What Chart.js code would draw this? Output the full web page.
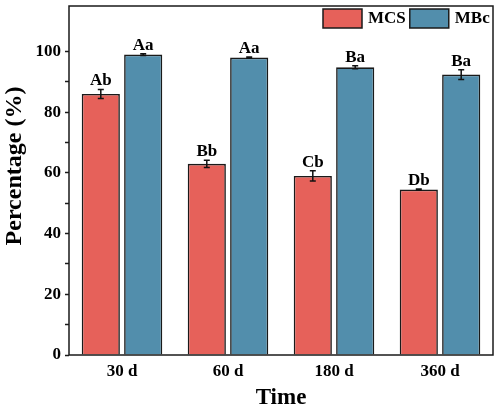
<!DOCTYPE html>
<html>
<head>
<meta charset="utf-8">
<script src="https://cdn.jsdelivr.net/npm/chart.js@4/dist/chart.umd.min.js"></script>
<style>
  body { margin: 0; background: #fff; }
  #chart { display: block; }
</style>
</head>
<body>
<canvas id="chart" width="500" height="412"></canvas>
<script>
// Données
const categories = ['30 d', '60 d', '180 d', '360 d'];
const mcsValues = [86, 63, 59, 54.5];
const mcsErrors = [1.5, 1.2, 1.7, 0.2];
const mcsLetters = ['Ab', 'Bb', 'Cb', 'Db'];
const mbcValues = [99, 98, 94.8, 92.4];
const mbcErrors = [0.3, 0.2, 0.5, 1.6];
const mbcLetters = ['Aa', 'Aa', 'Ba', 'Ba'];

const serif = "'Liberation Serif', 'Times New Roman', serif";
const ink = '#1a1a1a';

// Barres d'erreur, lettres, cadre, titre Y et légende
const decorations = {
    id: 'decorations',
    afterDatasetsDraw(chart) {
        const ctx = chart.ctx;
        const y = chart.scales.y;
        ctx.save();
        chart.data.datasets.forEach((ds, i) => {
            const meta = chart.getDatasetMeta(i);
            meta.data.forEach((bar, j) => {
                const v = ds.data[j];
                const e = ds.errors[j];
                const top = y.getPixelForValue(v + e);
                const bot = y.getPixelForValue(v - e);
                ctx.strokeStyle = '#111';
                ctx.lineWidth = 1.5;
                ctx.beginPath();
                ctx.moveTo(bar.x, top); ctx.lineTo(bar.x, bot);
                ctx.moveTo(bar.x - 3, top); ctx.lineTo(bar.x + 3, top);
                ctx.moveTo(bar.x - 3, bot); ctx.lineTo(bar.x + 3, bot);
                ctx.stroke();
                ctx.fillStyle = '#000';
                ctx.font = 'bold 17px ' + serif;
                ctx.textAlign = 'center';
                ctx.textBaseline = 'alphabetic';
                ctx.fillText(ds.letters[j], bar.x, Math.min(top, bar.y) - 4);
            });
        });
        ctx.restore();
    },
    afterDraw(chart) {
        const ctx = chart.ctx;
        const a = chart.chartArea;
        ctx.save();
        ctx.strokeStyle = ink;
        ctx.lineWidth = 1.5;
        ctx.strokeRect(a.left, a.top, a.right - a.left, a.bottom - a.top);

        // Titre de l'axe Y
        ctx.save();
        ctx.translate(15, 166);
        ctx.rotate(-Math.PI / 2);
        ctx.font = 'bold 24px ' + serif;
        ctx.fillStyle = '#000';
        ctx.textAlign = 'center';
        ctx.textBaseline = 'middle';
        ctx.fillText('Percentage (%)', 0, 0);
        ctx.restore();

        // Légende
        let x = 323;
        ctx.font = 'bold 17px ' + serif;
        ctx.textBaseline = 'middle';
        ctx.textAlign = 'left';
        chart.data.datasets.forEach(ds => {
            ctx.fillStyle = ds.backgroundColor;
            ctx.fillRect(x, 9, 39, 19);
            ctx.lineWidth = 1.5;
            ctx.strokeStyle = ink;
            ctx.strokeRect(x, 9, 39, 19);
            ctx.fillStyle = '#000';
            ctx.fillText(ds.label, x + 45, 19);
            x += 45 + ctx.measureText(ds.label).width + 4;
        });
        ctx.restore();
    }
};

new Chart(document.getElementById('chart'), {
    type: 'bar',
    data: {
        labels: categories,
        datasets: [{
            label: 'MCS',
            data: mcsValues,
            errors: mcsErrors,
            letters: mcsLetters,
            backgroundColor: '#E6615A',
            borderColor: ink,
            borderWidth: 1.6
        }, {
            label: 'MBc',
            data: mbcValues,
            errors: mbcErrors,
            letters: mbcLetters,
            backgroundColor: '#528EAC',
            borderColor: ink,
            borderWidth: 1.6
        }]
    },
    options: {
        responsive: false,
        animation: false,
        categoryPercentage: 0.8,
        barPercentage: 0.9,
        layout: { padding: { top: 6, right: 7, left: 0, bottom: 0 } },
        plugins: {
            legend: { display: false },
            tooltip: { enabled: false }
        },
        scales: {
            x: {
                grid: { display: false, drawTicks: false },
                border: { display: false },
                ticks: {
                    color: '#000',
                    padding: 6,
                    font: { family: serif, size: 17, weight: 'bold' }
                },
                title: {
                    display: true,
                    text: 'Time',
                    color: '#000',
                    padding: { top: 0, bottom: 0 },
                    font: { family: serif, size: 23, weight: 'bold' }
                },
                afterFit: s => { s.height = 57; s.paddingLeft = 0; s.paddingRight = 0; }
            },
            y: {
                min: 0,
                max: 115,
                grid: {
                    drawOnChartArea: false,
                    tickLength: 4,
                    tickWidth: 1.5,
                    tickColor: c => (c.tick && c.tick.value % 10 === 0) ? ink : 'rgba(0,0,0,0)'
                },
                border: { display: false },
                ticks: {
                    stepSize: 10,
                    color: '#000',
                    padding: 4,
                    font: { family: serif, size: 17, weight: 'bold' },
                    callback: v => (v % 20 === 0 ? v : '')
                },
                afterFit: s => { s.width = 69; s.paddingTop = 0; s.paddingBottom = 0; }
            }
        }
    },
    plugins: [decorations]
});
</script>
</body>
</html>
